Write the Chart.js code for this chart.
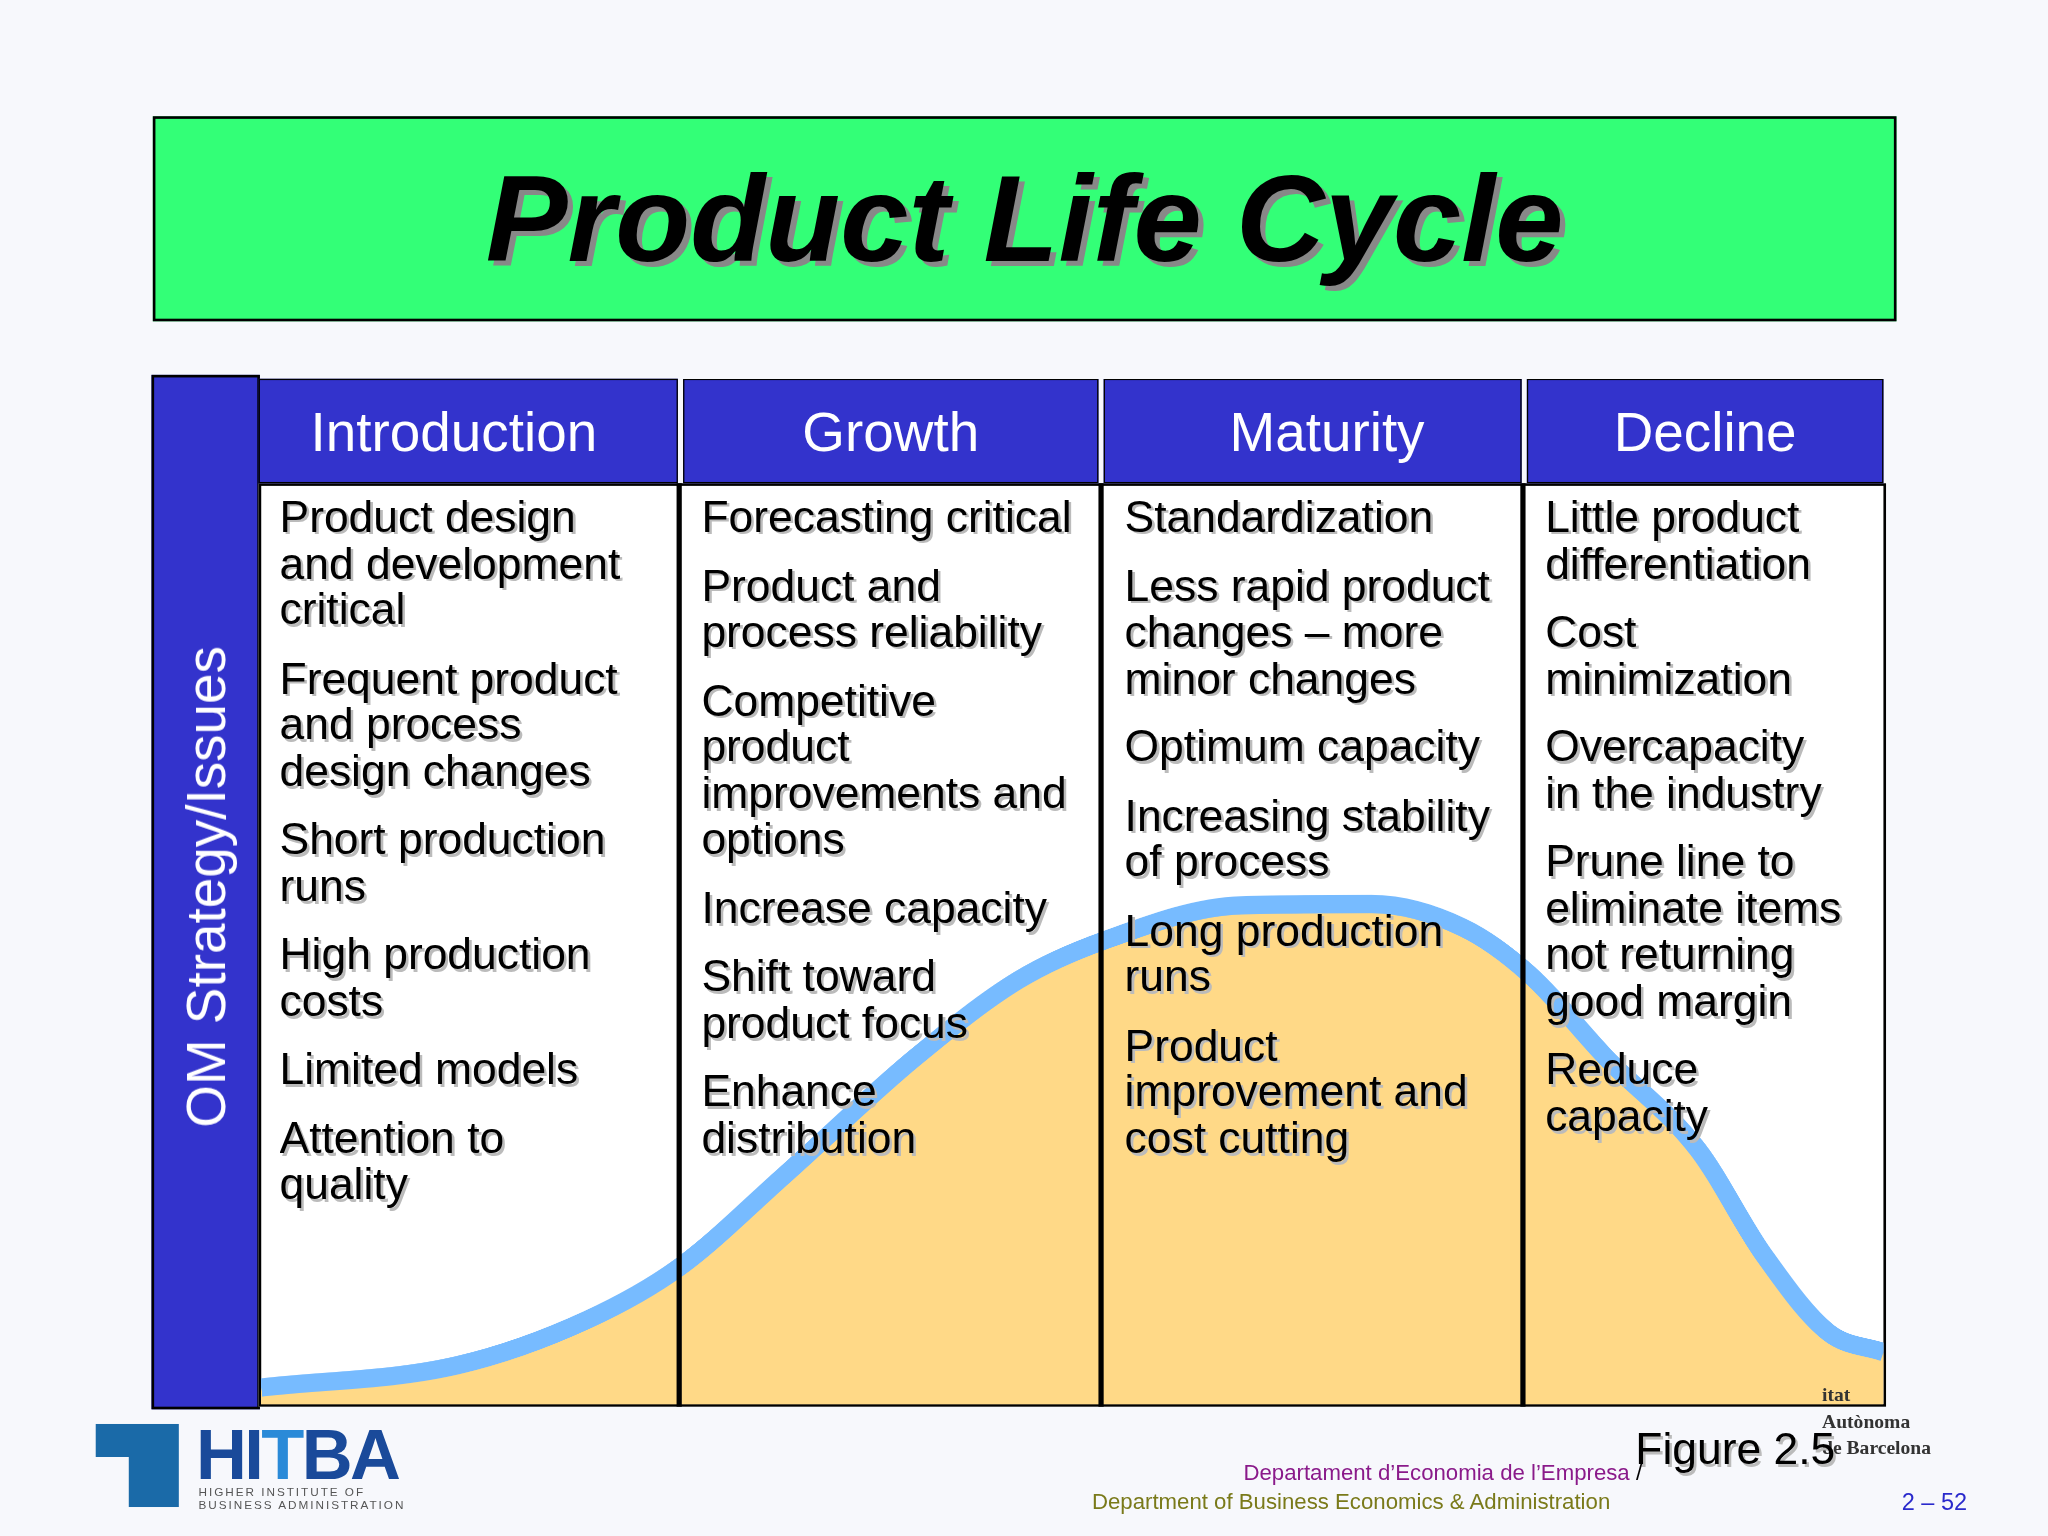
<!DOCTYPE html><html><head><meta charset="utf-8">
<script src="https://cdn.jsdelivr.net/npm/chart.js@4"></script>
<style>
html,body{margin:0;padding:0;background:#f7f8fc;overflow:hidden}
#page{position:absolute;left:0;top:0;width:1568px;height:1176px;transform:scale(1.30612);transform-origin:0 0;font-family:"Liberation Sans",Arial,sans-serif}
.abs{position:absolute}
#title{left:117px;top:89px;width:1331px;height:153px;background:#33ff77;border:2px solid #000;text-align:center;font-weight:bold;font-style:italic;font-size:94px;line-height:153px;text-shadow:4px 4px 0 #888}
#side{left:116px;top:287px;width:79px;height:788px;background:#3333cc;border:2px solid #000}
#sidet{position:absolute;left:40px;top:390px;transform:translate(-50%,-50%) rotate(-90deg);color:#fff;font-size:42px;white-space:nowrap}
.hd{top:290px;height:80px;background:#3333cc;color:#fff;font-size:42px;text-align:center;line-height:80px;border:1px solid #000;box-sizing:border-box}
#body{left:198px;top:370px;width:1246px;height:707px;background:#fff;border:2px solid #000;box-sizing:border-box}
.vl{top:370px;width:4px;height:707px;background:#000}
.col{top:378px;font-size:34px;line-height:35.5px;color:#000;text-shadow:2px 2px 0 #bbb}
.col div{margin-bottom:17px}
#clipw{left:200px;top:372px;width:1242px;height:703px;overflow:hidden}
#cw{position:absolute;left:-20px;top:-20px;width:1282px;height:743px}
</style></head><body><div id="page">
<div id="title" class="abs">Product Life Cycle</div>
<div id="side" class="abs"><div id="sidet">OM Strategy/Issues</div></div>
<div id="body" class="abs"></div>
<div id="clipw" class="abs"><div id="cw"><canvas id="c"></canvas></div></div>
<div class="abs vl" style="left:518px"></div>
<div class="abs vl" style="left:841px"></div>
<div class="abs vl" style="left:1164px"></div>
<div class="abs hd" style="left:198px;width:321px;padding-right:22px">Introduction</div>
<div class="abs hd" style="left:523px;width:318px">Growth</div>
<div class="abs hd" style="left:845px;width:320px;padding-left:22px">Maturity</div>
<div class="abs hd" style="left:1169px;width:273px">Decline</div>
<div class="abs col" style="left:214px"><div>Product design<br>and development<br>critical</div><div>Frequent product<br>and process<br>design changes</div><div>Short production<br>runs</div><div>High production<br>costs</div><div>Limited models</div><div>Attention to<br>quality</div></div>
<div class="abs col" style="left:537px"><div>Forecasting critical</div><div>Product and<br>process reliability</div><div>Competitive<br>product<br>improvements and<br>options</div><div>Increase capacity</div><div>Shift toward<br>product focus</div><div>Enhance<br>distribution</div></div>
<div class="abs col" style="left:861px"><div>Standardization</div><div>Less rapid product<br>changes – more<br>minor changes</div><div>Optimum capacity</div><div>Increasing stability<br>of process</div><div>Long production<br>runs</div><div>Product<br>improvement and<br>cost cutting</div></div>
<div class="abs col" style="left:1183px"><div>Little product<br>differentiation</div><div>Cost<br>minimization</div><div>Overcapacity<br>in the industry</div><div>Prune line to<br>eliminate items<br>not returning<br>good margin</div><div>Reduce<br>capacity</div></div>
<div class="abs" style="left:73px;top:1090px;width:64px;height:64px;background:#1a6aa8;clip-path:polygon(0 0,100% 0,100% 100%,40% 100%,40% 40%,0 40%)"></div>
<div class="abs" style="left:150px;top:1082px;font-size:54px;font-weight:bold;color:#1a4a9a;letter-spacing:-2px">HI<span style="color:#2a8ad8">T</span>BA</div>
<div class="abs" style="left:152px;top:1137px;font-size:9px;color:#555;letter-spacing:1.5px;line-height:10px">HIGHER INSTITUTE OF<br>BUSINESS ADMINISTRATION</div>
<div class="abs" style="left:1395px;top:1058px;font-family:'Liberation Serif',serif;font-size:15px;line-height:20px;font-weight:bold;color:#333">itat<br>Autònoma<br>de Barcelona</div>
<div class="abs" style="left:1252px;top:1090px;font-size:34px;text-shadow:2px 2px 0 #bbb">Figure 2.5</div>
<div class="abs" style="left:952px;top:1118px;font-size:17px;color:#8a1a8a">Departament d’Economia de l’Empresa <span style="color:#000">/</span></div>
<div class="abs" style="left:836px;top:1140px;font-size:17px;color:#7a7a1a">Department of Business Economics &amp; Administration</div>
<div class="abs" style="left:1456px;top:1140px;font-size:18px;color:#2a2acc">2 – 52</div>
</div>
<script>
const xs=[0,150,250,320,400,500,580,645,750,850,920,970,1030,1100,1150,1200,1242];
const ys=[13,30,65,105,175,265,325,355,382,383,365,330,265,195,115,55,40];
new Chart(document.getElementById('c'),{type:'scatter',data:{datasets:[{data:xs.map((x,i)=>({x:x,y:ys[i]})),showLine:true,fill:'origin',backgroundColor:'#ffd987',borderColor:'#77bbff',borderWidth:14,pointRadius:0,cubicInterpolationMode:'monotone'}]},
options:{devicePixelRatio:2.6,responsive:true,maintainAspectRatio:false,animation:false,layout:{padding:20},plugins:{legend:{display:false},tooltip:{enabled:false}},scales:{x:{type:'linear',min:0,max:1242,display:false},y:{min:0,max:703,display:false}}}});
</script></body></html>
